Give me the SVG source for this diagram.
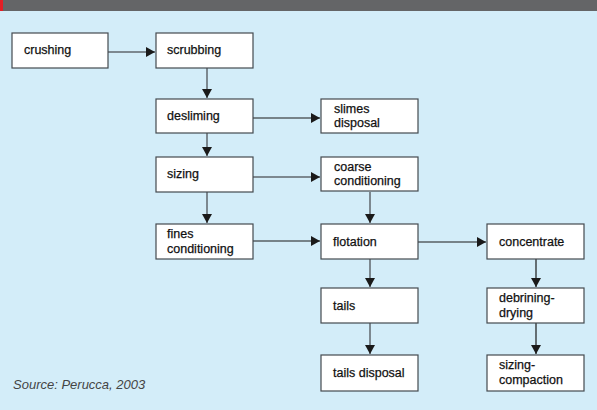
<svg xmlns="http://www.w3.org/2000/svg" width="597" height="410" viewBox="0 0 597 410">
<defs>
<marker id="ah" markerWidth="10" markerHeight="10" refX="9" refY="5" orient="auto" markerUnits="userSpaceOnUse">
<path d="M0,0 L9,5 L0,10 Z" fill="#1a1a1a"/>
</marker>
<style>
.box{fill:#ffffff;stroke:#444a4f;stroke-width:1.2}
.t{font-family:"Liberation Sans",Arial,sans-serif;font-size:12.5px;fill:#111;stroke:#111;stroke-width:0.25}
.g{stroke:#5f666c;stroke-width:1.5;fill:none}
.k{stroke:#1a1a1a;stroke-width:1.2;fill:none}
.src{font-family:"Liberation Sans",Arial,sans-serif;font-size:13px;font-style:italic;fill:#444}
</style>
</defs>
<rect x="0" y="0" width="597" height="410" fill="#d3edf9"/>
<rect x="0" y="0" width="597" height="11" fill="#646567"/>
<rect x="0" y="0" width="3" height="11" fill="#e31e25"/>

<g id="connectors">
<line class="g" x1="108" y1="52" x2="155" y2="52" marker-end="url(#ah)"/>
<line class="g" x1="207" y1="68" x2="207" y2="98" marker-end="url(#ah)"/>
<line class="k" x1="253" y1="118" x2="320" y2="118" marker-end="url(#ah)"/>
<line class="g" x1="207" y1="133" x2="207" y2="156" marker-end="url(#ah)"/>
<line class="g" x1="253" y1="177" x2="320" y2="177" marker-end="url(#ah)"/>
<line class="g" x1="207" y1="192" x2="207" y2="223" marker-end="url(#ah)"/>
<line class="g" x1="370" y1="192" x2="370" y2="223" marker-end="url(#ah)"/>
<line class="k" x1="253" y1="241" x2="320" y2="241" marker-end="url(#ah)"/>
<line class="k" x1="418" y1="242" x2="486" y2="242" marker-end="url(#ah)"/>
<line class="g" x1="370" y1="259" x2="370" y2="287" marker-end="url(#ah)"/>
<line class="g" x1="370" y1="323" x2="370" y2="354" marker-end="url(#ah)"/>
<line class="k" x1="536" y1="259" x2="536" y2="287" marker-end="url(#ah)"/>
<line class="k" x1="536" y1="323" x2="536" y2="354" marker-end="url(#ah)"/>
</g>

<g id="crushing"><rect class="box" x="12" y="33" width="96" height="35"/><text class="t" x="24" y="54">crushing</text></g>
<g id="scrubbing"><rect class="box" x="156" y="33" width="97" height="35"/><text class="t" x="167" y="54">scrubbing</text></g>
<g id="desliming"><rect class="box" x="156" y="99" width="97" height="34"/><text class="t" x="167" y="120">desliming</text></g>
<g id="slimes-disposal"><rect class="box" x="321" y="99" width="97" height="34"/><text class="t" x="334" y="113">slimes</text><text class="t" x="334" y="127">disposal</text></g>
<g id="sizing"><rect class="box" x="156" y="157" width="97" height="35"/><text class="t" x="167" y="178">sizing</text></g>
<g id="coarse-conditioning"><rect class="box" x="321" y="157" width="97" height="34"/><text class="t" x="334" y="171">coarse</text><text class="t" x="334" y="185">conditioning</text></g>
<g id="fines-conditioning"><rect class="box" x="156" y="224" width="97" height="35"/><text class="t" x="167" y="238">fines</text><text class="t" x="167" y="253">conditioning</text></g>
<g id="flotation"><rect class="box" x="321" y="224" width="97" height="35"/><text class="t" x="333" y="246">flotation</text></g>
<g id="concentrate"><rect class="box" x="487" y="224" width="97" height="35"/><text class="t" x="499" y="246">concentrate</text></g>
<g id="tails"><rect class="box" x="321" y="288" width="97" height="35"/><text class="t" x="333" y="310">tails</text></g>
<g id="debrining-drying"><rect class="box" x="487" y="288" width="97" height="35"/><text class="t" x="499" y="302">debrining-</text><text class="t" x="499" y="317">drying</text></g>
<g id="tails-disposal"><rect class="box" x="321" y="355" width="97" height="36"/><text class="t" x="333" y="377">tails disposal</text></g>
<g id="sizing-compaction"><rect class="box" x="487" y="355" width="97" height="36"/><text class="t" x="499" y="369">sizing-</text><text class="t" x="499" y="384">compaction</text></g>

<text class="src" x="13" y="389">Source: Perucca, 2003</text>
</svg>
